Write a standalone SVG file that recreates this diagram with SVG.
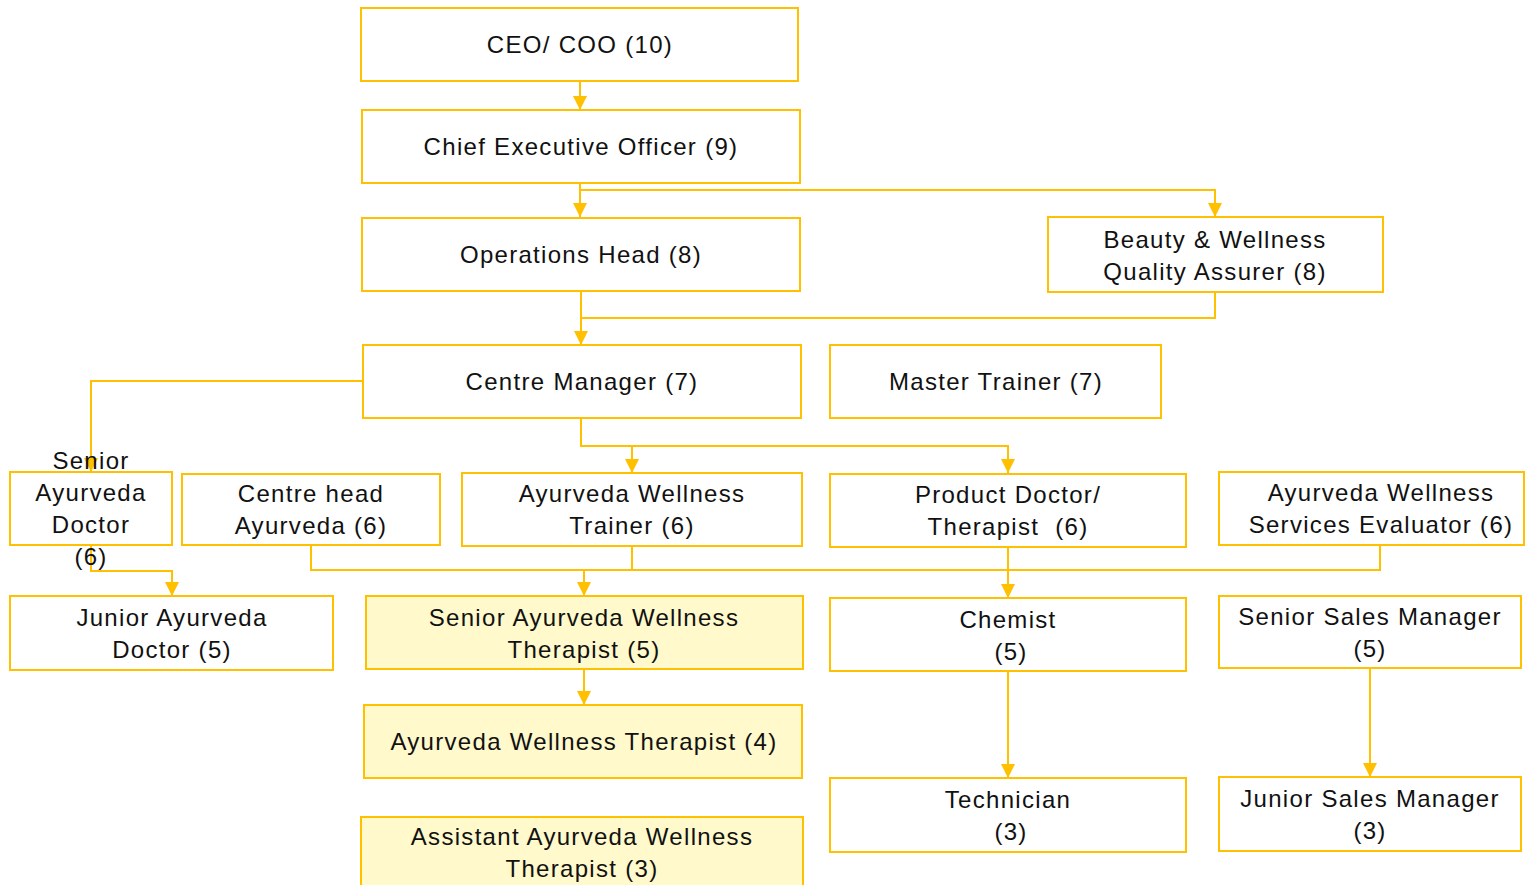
<svg xmlns="http://www.w3.org/2000/svg" width="1526" height="885" viewBox="0 0 1526 885">
<style>
.b{fill:#fff;stroke:#FFC000;stroke-width:2}
.y{fill:#FFF9CC;stroke:#FFC000;stroke-width:2}
text{font-family:"Liberation Sans",Arial,sans-serif;font-size:24px;letter-spacing:1.3px;fill:#111;text-anchor:middle}
.c{fill:none;stroke:#FFC000;stroke-width:2}
</style>
<defs>
<marker id="a" viewBox="0 0 14 14" refX="14" refY="7" markerWidth="14" markerHeight="14" markerUnits="userSpaceOnUse" orient="auto">
<path d="M0,0L14,7L0,14z" fill="#FFC000"/>
</marker>
</defs>
<rect width="1526" height="885" fill="#fff"/>
<g id="connectors">
<path class="c" d="M580,81V110" marker-end="url(#a)"/>
<path class="c" d="M580,183V217" marker-end="url(#a)"/>
<path class="c" d="M580,190H1215V217" marker-end="url(#a)"/>
<path class="c" d="M581,291V345" marker-end="url(#a)"/>
<path class="c" d="M1215,292V318H581"/>
<path class="c" d="M363,381H91V472" marker-end="url(#a)"/>
<path class="c" d="M581,418V446H1008V473" marker-end="url(#a)"/>
<path class="c" d="M632,446V473" marker-end="url(#a)"/>
<path class="c" d="M91,545V571H172V596" marker-end="url(#a)"/>
<path class="c" d="M311,545V570H1380V545"/>
<path class="c" d="M632,546V570"/>
<path class="c" d="M584,570V596" marker-end="url(#a)"/>
<path class="c" d="M1008,547V598" marker-end="url(#a)"/>
<path class="c" d="M584,669V705" marker-end="url(#a)"/>
<path class="c" d="M1008,671V778" marker-end="url(#a)"/>
<path class="c" d="M1370,668V777" marker-end="url(#a)"/>
</g>
<g id="n-ceo"><rect class="b" x="361" y="8" width="437" height="73"/><text x="580" y="53">CEO/ COO (10)</text></g>
<g id="n-chief"><rect class="b" x="362" y="110" width="438" height="73"/><text x="581" y="155">Chief Executive Officer (9)</text></g>
<g id="n-ops"><rect class="b" x="362" y="218" width="438" height="73"/><text x="581" y="263">Operations Head (8)</text></g>
<g id="n-beauty"><rect class="b" x="1048" y="217" width="335" height="75"/><text x="1215" y="248">Beauty &amp; Wellness</text><text x="1215" y="280">Quality Assurer (8)</text></g>
<g id="n-cm"><rect class="b" x="363" y="345" width="438" height="73"/><text x="582" y="390">Centre Manager (7)</text></g>
<g id="n-master"><rect class="b" x="830" y="345" width="331" height="73"/><text x="996" y="390">Master Trainer (7)</text></g>
<g id="n-sad"><rect class="b" x="10" y="472" width="162" height="73"/><text x="91" y="469">Senior</text><text x="91" y="501">Ayurveda</text><text x="91" y="533">Doctor</text><text x="91" y="565">(6)</text></g>
<g id="n-cha"><rect class="b" x="182" y="474" width="258" height="71"/><text x="311" y="502">Centre head</text><text x="311" y="534">Ayurveda (6)</text></g>
<g id="n-awt6"><rect class="b" x="462" y="473" width="340" height="73"/><text x="632" y="502">Ayurveda Wellness</text><text x="632" y="534">Trainer (6)</text></g>
<g id="n-pd"><rect class="b" x="830" y="474" width="356" height="73"/><text x="1008" y="503">Product Doctor/</text><text x="1008" y="535" style="white-space:pre">Therapist  (6)</text></g>
<g id="n-awse"><rect class="b" x="1219" y="472" width="305" height="73"/><text x="1381" y="501">Ayurveda Wellness</text><text x="1381" y="533">Services Evaluator (6)</text></g>
<g id="n-jad"><rect class="b" x="10" y="596" width="323" height="74"/><text x="172" y="626">Junior Ayurveda</text><text x="172" y="658">Doctor (5)</text></g>
<g id="n-sawt"><rect class="y" x="366" y="596" width="437" height="73"/><text x="584" y="626">Senior Ayurveda Wellness</text><text x="584" y="658">Therapist (5)</text></g>
<g id="n-awt4"><rect class="y" x="364" y="705" width="438" height="73"/><text x="584" y="750">Ayurveda Wellness Therapist (4)</text></g>
<g id="n-aawt"><rect class="y" x="361" y="817" width="442" height="80"/><text x="582" y="845">Assistant Ayurveda Wellness</text><text x="582" y="877">Therapist (3)</text></g>
<g id="n-chem"><rect class="b" x="830" y="598" width="356" height="73"/><text x="1008" y="628">Chemist</text><text x="1011" y="660">(5)</text></g>
<g id="n-ssm"><rect class="b" x="1219" y="596" width="302" height="72"/><text x="1370" y="625">Senior Sales Manager</text><text x="1370" y="657">(5)</text></g>
<g id="n-tech"><rect class="b" x="830" y="778" width="356" height="74"/><text x="1008" y="808">Technician</text><text x="1011" y="840">(3)</text></g>
<g id="n-jsm"><rect class="b" x="1219" y="777" width="302" height="74"/><text x="1370" y="807">Junior Sales Manager</text><text x="1370" y="839">(3)</text></g>
</svg>
